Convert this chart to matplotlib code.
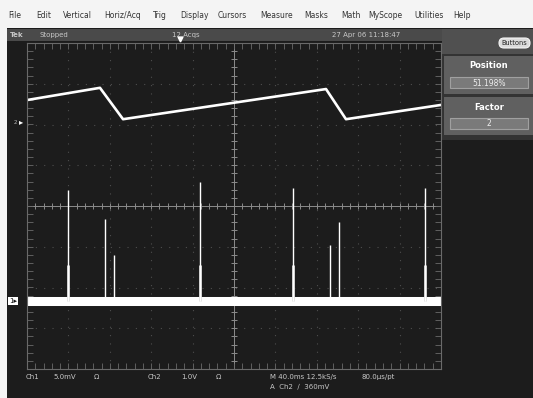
import numpy as np
import matplotlib
matplotlib.use("Agg")
import matplotlib.pyplot as plt
from matplotlib.patches import Rectangle, FancyBboxPatch

# ---------------------------------------------------------------
# data (time in ms, amplitude in divisions)
# ---------------------------------------------------------------
saw_t = [0.0, 70.5, 92.8, 288.9, 308.2, 400.0]      # Ch2 sawtooth vertices
saw_v = [2.60, 2.90, 2.13, 2.87, 2.13, 2.48]

ch1_base = -2.34                                    # Ch1 noise floor
spike_t = [39.6, 75.4, 84.1, 167.1, 257.0, 292.8, 301.4, 384.5]
spike_top = [0.39, -0.32, -1.20, 0.59, 0.44, -0.96, -0.39, 0.44]
big_t = [39.6, 167.1, 257.0, 384.5]                 # spikes with a wide skirt
skirt_top = -1.45

menu_items = ["File", "Edit", "Vertical", "Horiz/Acq", "Trig", "Display",
              "Cursors", "Measure", "Masks", "Math", "MyScope", "Utilities", "Help"]
menu_x = [8, 36, 63, 104, 153, 180, 218, 260, 304, 341, 368, 414, 453]

# colours
SCREEN = '#1c1c1c'
GRID = '#8c8c8c'
TXT = '#c8c8c8'

fig = plt.figure(figsize=(5.33, 3.98), dpi=100)
fig.patch.set_facecolor('#f4f4f4')

# pixel canvas for the instrument chrome
bg = fig.add_axes([0, 0, 1, 1])
bg.set_xlim(0, 533)
bg.set_ylim(398, 0)
bg.axis('off')

bg.add_patch(Rectangle((7, 28), 526, 370, color=SCREEN, lw=0))
bg.add_patch(Rectangle((7, 29), 435, 12, color='#4a4a4a', lw=0))
bg.add_patch(Rectangle((442, 29), 91, 25, color='#505050', lw=0))
bg.add_patch(Rectangle((442, 54), 91, 86, color='#333333', lw=0))
for y0, title, val in [(56, 'Position', '51.198%'), (97, 'Factor', '2')]:
    bg.add_patch(Rectangle((444, y0), 89, 38, color='#606060', lw=0))
    bg.add_patch(Rectangle((450, y0 + 21), 78, 11, facecolor='#7a7a7a',
                           edgecolor='#a0a0a0', lw=0.8))
    bg.text(489, y0 + 10, title, color='white', fontsize=6, fontweight='bold',
            ha='center', va='center')
    bg.text(489, y0 + 27, val, color='#eeeeee', fontsize=5.5, ha='center', va='center')
bg.add_patch(FancyBboxPatch((499, 38), 31, 10, boxstyle='round,pad=0,rounding_size=5',
                            facecolor='#dcdcdc', edgecolor='#f4f4f4', lw=0.8))
bg.text(514.5, 43.3, 'Buttons', fontsize=4.8, color='#222222', ha='center', va='center')

# menu bar
for name, x in zip(menu_items, menu_x):
    bg.text(x, 16, name, fontsize=5.5, color='#333333', va='center')

# status line
bg.text(10, 35, 'Tek', fontsize=5, color=TXT, va='center', fontweight='bold')
bg.text(40, 35, 'Stopped', fontsize=5, color=TXT, va='center')
bg.text(172, 35, '12 Acqs', fontsize=5, color=TXT, va='center')
bg.text(332, 35, '27 Apr 06 11:18:47', fontsize=5, color=TXT, va='center')
bg.plot([180], [39], marker='v', color='white', ms=3.5)

# footer readouts
bg.text(26, 377, 'Ch1', fontsize=5, color=TXT, va='center')
bg.text(53, 377, '5.0mV', fontsize=5, color=TXT, va='center')
bg.text(94, 377, 'Ω', fontsize=5, color=TXT, va='center')
bg.text(148, 377, 'Ch2', fontsize=5, color=TXT, va='center')
bg.text(181, 377, '1.0V', fontsize=5, color=TXT, va='center')
bg.text(216, 377, 'Ω', fontsize=5, color=TXT, va='center')
bg.text(270, 377, 'M 40.0ms 12.5kS/s', fontsize=5, color=TXT, va='center')
bg.text(362, 377, '80.0μs/pt', fontsize=5, color=TXT, va='center')
bg.text(270, 386, 'A  Ch2  ∕  360mV', fontsize=5, color=TXT, va='center')

# ---------------------------------------------------------------
# graticule
# ---------------------------------------------------------------
ax = fig.add_axes([27 / 533, 29 / 398, 414 / 533, 326 / 398])
ax.set_facecolor(SCREEN)
ax.set_xlim(0, 400)
ax.set_ylim(-4, 4)
ax.set_xticks([])
ax.set_yticks([])
for sp in ax.spines.values():
    sp.set_color('#6a6a6a')
    sp.set_linewidth(0.8)

for xv in range(40, 400, 40):
    if xv != 200:
        ax.axvline(xv, color='#4e4e4e', lw=0.8, ls=(0, (1, 6.5)))
for yv in range(-3, 4):
    if yv != 0:
        ax.axhline(yv, color='#4e4e4e', lw=0.8, ls=(0, (1, 6.5)))
ax.axvline(200, color=GRID, lw=0.7)
ax.axhline(0, color=GRID, lw=0.7)

tx = np.arange(0, 401, 8)
ty = np.arange(-4, 4.01, 0.2)
hx = 0.075   # tick half length in divisions (vertical)
hy = 3.0     # tick half length in ms (horizontal)
ax.vlines(tx, -hx, hx, color=GRID, lw=0.7)
ax.hlines(ty, 200 - hy, 200 + hy, color=GRID, lw=0.7)
ax.vlines(tx, 4 - 2 * hx, 4, color='#6a6a6a', lw=0.6)
ax.vlines(tx, -4, -4 + 2 * hx, color='#6a6a6a', lw=0.6)
ax.hlines(ty, 0, 2 * hy, color='#6a6a6a', lw=0.6)
ax.hlines(ty, 400 - 2 * hy, 400, color='#6a6a6a', lw=0.6)

# ---------------------------------------------------------------
# traces
# ---------------------------------------------------------------
ax.plot(saw_t, saw_v, color='white', lw=1.9)

ax.plot([0, 400], [ch1_base, ch1_base], color='white', lw=6.5,
        solid_capstyle='butt')
ax.vlines(big_t, ch1_base, skirt_top, color='#dddddd', lw=2.0)
ax.vlines(spike_t, ch1_base, spike_top, color='white', lw=1.0)

# channel markers
bg.text(9, 301, '1▸', fontsize=5, color='#111111', va='center',
        bbox=dict(boxstyle='square,pad=0.15', facecolor='white', edgecolor='none'))
bg.text(14, 122, '2', fontsize=4, color='#bbbbbb', va='center')
bg.text(19, 122, '▸', fontsize=6, color='white', va='center')

fig.savefig('out.png', dpi=100, facecolor=fig.get_facecolor())
